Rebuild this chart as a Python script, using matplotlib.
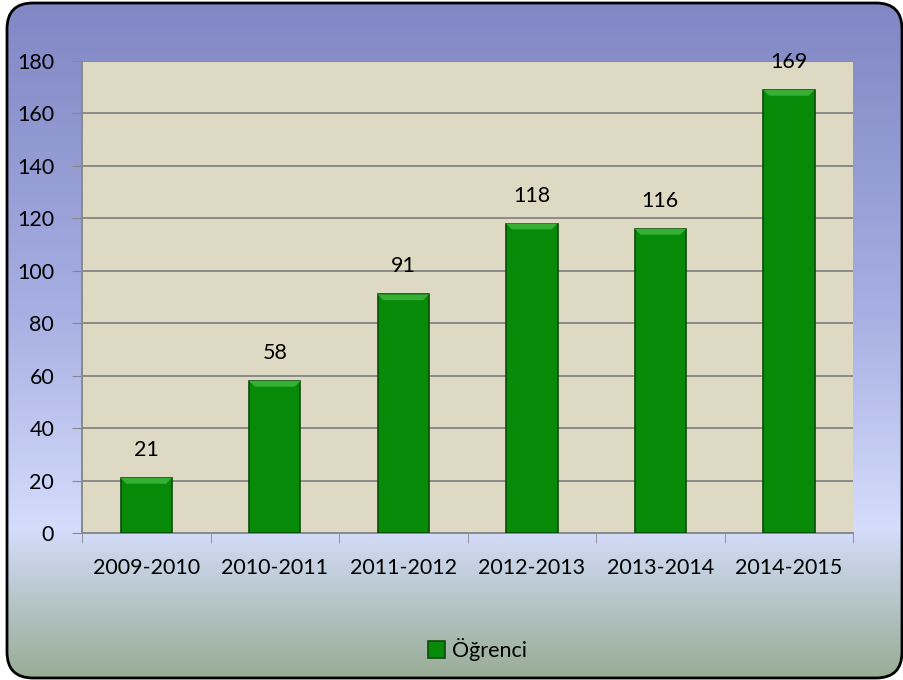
import numpy as np
import matplotlib.pyplot as plt
from matplotlib.colors import LinearSegmentedColormap
from matplotlib.patches import FancyBboxPatch, Polygon

years = ["2009-2010", "2010-2011", "2011-2012", "2012-2013", "2013-2014", "2014-2015"]
ogrenci = [21, 58, 91, 118, 116, 169]
yticks = [0, 20, 40, 60, 80, 100, 120, 140, 160, 180]

plt.rcParams['font.family'] = ['Lato', 'DejaVu Sans']
FS = 15.5

fig = plt.figure(figsize=(9.04, 6.80), dpi=100)
fig.patch.set_facecolor("white")

# background: gradient inside a rounded frame (pixel units)
bg = fig.add_axes([0, 0, 1, 1], zorder=-10)
bg.set_axis_off()
bg.set_xlim(0, 904)
bg.set_ylim(0, 680)
cmap = LinearSegmentedColormap.from_list("bg", [
    (0.0, "#8087c4"), (0.45, "#a6aee2"), (0.78, "#d4ddfb"), (1.0, "#98ad95")])
grad = np.linspace(0, 1, 256).reshape(-1, 1)
frame = FancyBboxPatch((7, 2), 895, 675, boxstyle="round,pad=0,rounding_size=26",
                       fill=False, ec="black", lw=2.0, zorder=2)
bg.add_patch(frame)
im = bg.imshow(grad, aspect="auto", cmap=cmap, extent=[7, 902, 2, 677], origin="upper", zorder=1)
im.set_clip_path(frame)

ax = fig.add_axes([0.0907, 0.2162, 0.853, 0.694])
ax.set_facecolor("#ddd9c3")
x = np.arange(len(years))
w = 0.4
bars = ax.bar(x, ogrenci, width=w, color="#078a07", edgecolor="#0a4a0a", lw=1.2,
              label="Öğrenci", zorder=3)
# small bevel on bar tops
dx, dy = 0.045, 2.2
for b, v in zip(bars, ogrenci):
    x0, x1 = b.get_x(), b.get_x() + b.get_width()
    ax.add_patch(Polygon([(x0, v), (x1, v), (x1 - dx, v - dy), (x0 + dx, v - dy)],
                         closed=True, fc="#35b035", ec="none", zorder=4))
    ax.annotate(str(v), (x0 + w / 2, v), xytext=(0, 13),
                textcoords="offset points", ha="center", va="bottom", fontsize=FS)

ax.set_xlim(-0.5, len(years) - 0.5)
ax.set_ylim(0, 180)
ax.set_yticks(yticks)
ax.set_xticks(x)
ax.set_xticklabels(years, fontsize=FS)
ax.tick_params(axis="y", labelsize=FS, length=7, color="#888888", pad=13)
ax.set_xticks(np.arange(-0.5, len(years)), minor=True)
ax.tick_params(axis="x", which="major", length=0, pad=18)
ax.tick_params(axis="x", which="minor", length=7, color="#888888")
ax.grid(axis="y", color="#8a8a8a", lw=1.4, zorder=1)
for s in ["top", "right"]:
    ax.spines[s].set_visible(False)
for s in ["left", "bottom"]:
    ax.spines[s].set_color("#8a8a8a")
    ax.spines[s].set_linewidth(1.4)

fig.legend(handles=[bars], labels=["Öğrenci"], loc="center", bbox_to_anchor=(0.528, 0.045),
           frameon=False, fontsize=FS, handlelength=0.8, handleheight=0.8, handletextpad=0.3)

fig.savefig("out.png", dpi=100)
